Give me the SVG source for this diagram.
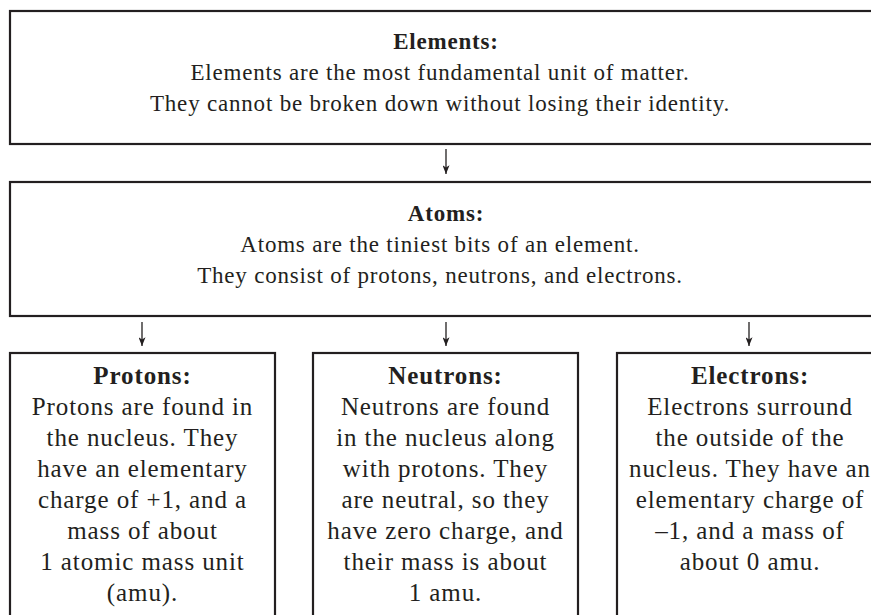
<svg xmlns="http://www.w3.org/2000/svg" width="871" height="615" viewBox="0 0 871 615">
<style>
.box{fill:#ffffff;stroke:#231f20;stroke-width:2.2}
.t{font-family:"Liberation Serif","Times New Roman",serif;fill:#231f20;text-anchor:middle}
.top{font-size:23px;letter-spacing:0.8px}
.bot{font-size:25px;letter-spacing:0.9px}
.h{font-weight:bold}
.c{stroke:#231f20;stroke-width:1.3;fill:none}
</style>
<defs>
<marker id="arr" viewBox="0 0 10 8" refX="10" refY="4" markerWidth="10" markerHeight="7" markerUnits="userSpaceOnUse" orient="auto">
<path d="M0,0 L10,4 L0,8 L2.5,4 Z" fill="#231f20"/>
</marker>
</defs>
<rect width="871" height="615" fill="#ffffff"/>
<g id="connectors">
<line class="c" x1="446" y1="149" x2="446" y2="174" marker-end="url(#arr)"/>
<line class="c" x1="142" y1="322" x2="142" y2="346" marker-end="url(#arr)"/>
<line class="c" x1="446" y1="322" x2="446" y2="346" marker-end="url(#arr)"/>
<line class="c" x1="749" y1="322" x2="749" y2="346" marker-end="url(#arr)"/>
</g>
<g id="elements">
<rect class="box" x="10" y="11" width="900" height="133"/>
<text class="t top h" x="446" y="49">Elements:</text>
<text class="t top" x="440" y="80">Elements are the most fundamental unit of matter.</text>
<text class="t top" x="440" y="111">They cannot be broken down without losing their identity.</text>
</g>
<g id="atoms">
<rect class="box" x="10" y="182" width="900" height="134"/>
<text class="t top h" x="446" y="221">Atoms:</text>
<text class="t top" x="440" y="252">Atoms are the tiniest bits of an element.</text>
<text class="t top" x="440" y="283">They consist of protons, neutrons, and electrons.</text>
</g>
<g id="protons">
<rect class="box" x="10" y="353" width="265" height="290"/>
<text class="t bot h" x="142.5" y="384">Protons:</text>
<text class="t bot" x="142.5" y="415">Protons are found in</text>
<text class="t bot" x="142.5" y="446">the nucleus. They</text>
<text class="t bot" x="142.5" y="477">have an elementary</text>
<text class="t bot" x="142.5" y="508">charge of +1, and a</text>
<text class="t bot" x="142.5" y="539">mass of about</text>
<text class="t bot" x="142.5" y="570">1 atomic mass unit</text>
<text class="t bot" x="142.5" y="601">(amu).</text>
</g>
<g id="neutrons">
<rect class="box" x="313" y="353" width="265" height="290"/>
<text class="t bot h" x="445.5" y="384">Neutrons:</text>
<text class="t bot" x="445.5" y="415">Neutrons are found</text>
<text class="t bot" x="445.5" y="446">in the nucleus along</text>
<text class="t bot" x="445.5" y="477">with protons. They</text>
<text class="t bot" x="445.5" y="508">are neutral, so they</text>
<text class="t bot" x="445.5" y="539">have zero charge, and</text>
<text class="t bot" x="445.5" y="570">their mass is about</text>
<text class="t bot" x="445.5" y="601">1 amu.</text>
</g>
<g id="electrons">
<rect class="box" x="617" y="353" width="300" height="290"/>
<text class="t bot h" x="750" y="384">Electrons:</text>
<text class="t bot" x="750" y="415">Electrons surround</text>
<text class="t bot" x="750" y="446">the outside of the</text>
<text class="t bot" x="750" y="477">nucleus. They have an</text>
<text class="t bot" x="750" y="508">elementary charge of</text>
<text class="t bot" x="750" y="539">–1, and a mass of</text>
<text class="t bot" x="750" y="570">about 0 amu.</text>
</g>
</svg>
